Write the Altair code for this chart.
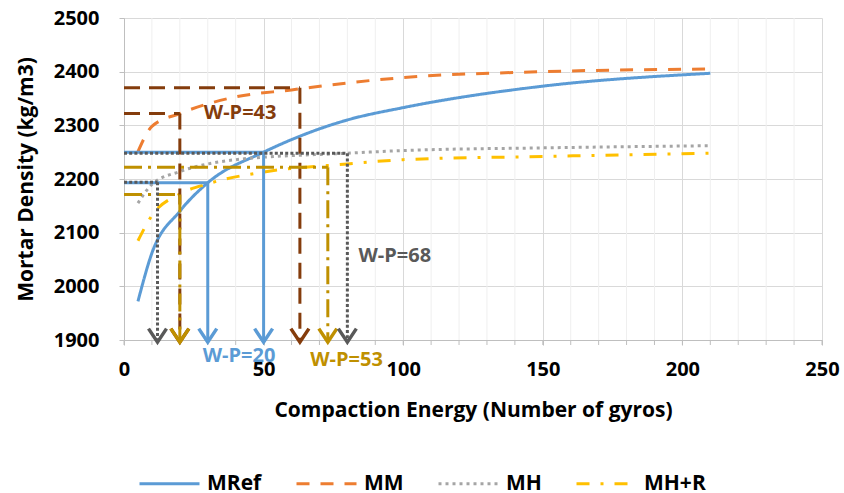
import altair as alt
import pandas as pd

# ---- series data ----
series_names = ["MRef", "MM", "MH", "MH+R"]
series_colors = ["#5B9BD5", "#ED7D31", "#A5A5A5", "#FFC000"]
series_dash = [[1, 0], [13, 11], [3, 4], [13, 11, 3, 11]]

mref_x = [5, 10, 20, 30, 50, 80, 100, 150, 210]
mref_y = [1972, 2062, 2140, 2193, 2250, 2310, 2333, 2373, 2397]
mm_x = [5, 10, 20, 40, 60, 80, 100, 150, 210]
mm_y = [2251, 2298, 2322, 2353, 2366, 2379, 2389, 2400, 2405]
mh_x = [5, 10, 20, 30, 40, 80, 100, 150, 210]
mh_y = [2155, 2190, 2214, 2228, 2236, 2248, 2253, 2258, 2262]
mhr_x = [5, 10, 20, 30, 50, 80, 100, 150, 210]
mhr_y = [2085, 2132, 2172, 2191, 2213, 2228, 2236, 2242, 2248]

# ---- guide (reading) lines ----
guide_series = ["MRef", "MRef", "MM", "MM", "MH+R", "MH+R", "MH", "MH"]
guide_x = [30, 50, 20, 63, 20, 73, 12, 80]
guide_y = [2193, 2250, 2322, 2370, 2171, 2222, 2194, 2248]
arrow_tip = 1896
guide_colors = {"MRef": "#5B9BD5", "MM": "#843C0C", "MH+R": "#BF9000", "MH": "#595959"}
guide_dash = {"MRef": [1, 0], "MM": [16, 9], "MH+R": [18, 6, 3, 6], "MH": [3, 2.2]}
guide_order = ["MRef", "MM", "MH+R", "MH"]

# ---- text labels ----
label_text = ["W-P=20", "W-P=43", "W-P=53", "W-P=68"]
label_x = [41.2, 41.6, 79.7, 97]
label_y = [1871, 2323, 1863, 2057]
label_colors = ["#5B9BD5", "#843C0C", "#BF9000", "#595959"]

# ---- axis ticks ----
x_major = list(range(0, 251, 50))
x_minor = list(range(0, 251, 10))
y_ticks = list(range(1900, 2501, 50))

FONT = "Open Sans"

rows = []
for name, xs, ys in zip(series_names, [mref_x, mm_x, mh_x, mhr_x], [mref_y, mm_y, mh_y, mhr_y]):
    for a, b in zip(xs, ys):
        rows.append({"series": name, "x": a, "y": b})
series_df = pd.DataFrame(rows)

grows = []
for s, gx, gy in zip(guide_series, guide_x, guide_y):
    grows.append({"series": s, "x": 0, "x2": gx, "y": gy, "y2": gy})
    grows.append({"series": s, "x": gx, "x2": gx, "y": gy, "y2": arrow_tip})
guide_df = pd.DataFrame(grows)
arrow_df = pd.DataFrame({"series": guide_series, "x": guide_x, "y": [arrow_tip] * len(guide_x)})
label_df = pd.DataFrame({"t": label_text, "x": label_x, "y": label_y, "c": label_colors})
minor_df = pd.DataFrame({"x": x_minor})

x_enc = alt.X(
    "x:Q",
    title="Compaction Energy (Number of gyros)",
    scale=alt.Scale(domain=[0, 250], nice=False, zero=False),
    axis=alt.Axis(
        values=x_major, format="d",
        labelOverlap=False, labelFlush=False,
        gridColor="#D9D9D9",
        labelPadding=14,
        titlePadding=20, titleFontSize=21,
    ),
)
y_enc = alt.Y(
    "y:Q",
    title="Mortar Density (kg/m3)",
    scale=alt.Scale(domain=[1900, 2500], nice=False, zero=False),
    axis=alt.Axis(
        values=y_ticks,
        labelExpr="datum.value % 100 == 0 ? format(datum.value, 'd') : ''",
        labelOverlap=False, labelFlush=False,
        gridColor={"condition": {"test": "datum.value % 100 == 0", "value": "#D9D9D9"}, "value": "#EFEFEF"},
        labelPadding=20,
        titlePadding=17, titleFontSize=21,
    ),
)

leg = alt.Legend(
    title=None, orient="none", legendX=14, legendY=434, direction="horizontal",
    symbolType="stroke", symbolSize=3600, symbolStrokeWidth=3,
    labelFont=FONT, labelFontSize=21, labelFontWeight="bold", labelColor="black",
    labelOffset=6, columnPadding=28,
)

# minor vertical grid lines and minor ticks (every 10 gyros)
minor_grid = alt.Chart(minor_df).transform_filter("datum.x % 50 != 0").mark_rule(
    color="#EFEFEF", strokeWidth=1
).encode(x=x_enc)
minor_ticks = alt.Chart(minor_df).mark_rule(color="#BFBFBF", strokeWidth=1).encode(
    x="x:Q", y=alt.value(322), y2=alt.value(327)
)

lines = alt.Chart(series_df).mark_line(strokeWidth=3, interpolate="monotone", clip=True).encode(
    x="x:Q", y=y_enc,
    color=alt.Color("series:N", scale=alt.Scale(domain=series_names, range=series_colors), legend=leg),
    strokeDash=alt.StrokeDash("series:N", scale=alt.Scale(domain=series_names, range=series_dash), legend=leg),
)

layers = [minor_grid, minor_ticks, lines]
for s in guide_order:
    col = guide_colors[s]
    rule = alt.Chart(guide_df).transform_filter(alt.datum.series == s).mark_rule(
        color=col, strokeWidth=3, strokeDash=guide_dash[s], strokeCap="butt"
    ).encode(x="x:Q", x2="x2:Q", y="y:Q", y2="y2:Q")
    head = alt.Chart(arrow_df).transform_filter(alt.datum.series == s).mark_point(
        shape="M-1,-1.5L0,0L1,-1.5", filled=False, stroke=col, strokeWidth=3.5, size=324, opacity=1
    ).encode(x="x:Q", y="y:Q")
    layers += [rule, head]

for t, c in zip(label_text, label_colors):
    txt = alt.Chart(label_df).transform_filter(alt.datum.t == t).mark_text(
        font=FONT, fontSize=20, fontWeight="bold", color=c, align="center", baseline="middle"
    ).encode(x="x:Q", y="y:Q", text="t:N")
    layers.append(txt)

chart = alt.layer(*layers).properties(
    width=698, height=322,
    autosize=alt.AutoSizeParams(type="none"),
    padding={"left": 124, "top": 18, "right": 22, "bottom": 153},
).configure_view(stroke=None).configure_axis(
    labelFont=FONT, labelFontSize=20, labelFontWeight="bold", labelColor="black",
    titleFont=FONT, titleFontWeight="bold", titleColor="black",
    domainColor="#BFBFBF", tickColor="#BFBFBF", tickSize=5, gridWidth=1,
)

chart.save("out.html", embed_options={"renderer": "svg", "actions": False})
